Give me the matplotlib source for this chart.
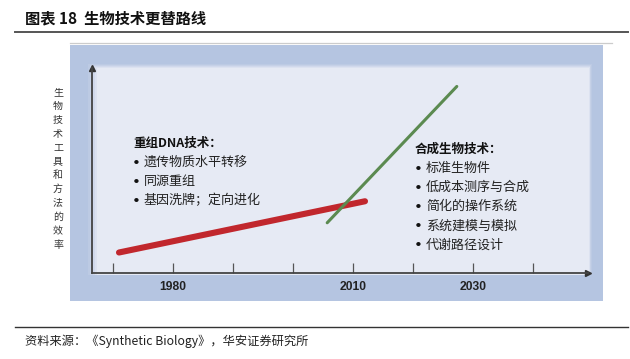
import matplotlib
matplotlib.use("Agg")
import matplotlib.pyplot as plt
from matplotlib.patches import Rectangle
from matplotlib.lines import Line2D

plt.rcParams['font.family'] = ['Noto Sans CJK SC', 'DejaVu Sans']

# ---------------- data ----------------
title = "图表 18  生物技术更替路线"
source = "资料来源：《Synthetic Biology》，华安证券研究所"
ylabel_chars = "生物技术工具和方法的效率"
tick_years = [1970, 1980, 1990, 2000, 2010, 2020, 2030, 2040]
tick_labels = ["", "1980", "", "", "2010", "", "2030", ""]
red_x = [1971, 2012]
red_y = [10, 35]
green_x = [2005.7, 2027.3]
green_y = [24.5, 91]
dna_title = "重组DNA技术："
dna_items = ["遗传物质水平转移", "同源重组", "基因洗牌；定向进化"]
syn_title = "合成生物技术："
syn_items = ["标准生物件", "低成本测序与合成", "简化的操作系统", "系统建模与模拟", "代谢路径设计"]

W, H = 630, 359
fig = plt.figure(figsize=(W / 100, H / 100), dpi=100)
fig.patch.set_facecolor("white")


def fx(x):
    return x / W


def fy(y):
    return 1 - y / H


def rect(x0, y0, x1, y1, color, z=0):
    fig.patches.append(Rectangle((fx(x0), fy(y1)), fx(x1) - fx(x0), fy(y0) - fy(y1),
                                 transform=fig.transFigure, facecolor=color,
                                 edgecolor="none", zorder=z))


def hline(y, x0, x1, color, lw):
    fig.add_artist(Line2D([fx(x0), fx(x1)], [fy(y), fy(y)], transform=fig.transFigure,
                          color=color, lw=lw))


# header / footer
fig.text(fx(25), fy(18), title, fontsize=11, fontweight="bold", ha="left", va="center", color="#111111")
hline(32, 15, 628, "#555555", 1.4)
hline(43, 70, 612, "#cccccc", 0.9)
hline(327, 15, 628, "#333333", 1.0)
fig.text(fx(25), fy(341), source, fontsize=8.8, ha="left", va="center", color="#222222")

# panel backgrounds (outer blue frame + soft-edged inner panel)
rect(70, 45, 603, 301, "#b5c5e1", z=0)
steps = ["#bccae3", "#c6d1e7", "#d1d9ec", "#dce2f0", "#e6eaf4"]
for i, c in enumerate(steps):
    s = (len(steps) - 1 - i) * 1.2
    rect(93 - s + i, 64 + i * 1.0, 592 - i * 0.8, 275, c, z=1 + i * 0.01)

# y label (stacked characters)
for i, ch in enumerate(ylabel_chars):
    fig.text(fx(58), fy(92 + i * 13.9), ch, fontsize=7.2, ha="center", va="center", color="#333333")

# main axes
ax = fig.add_axes([fx(92), fy(273), fx(588) - fx(92), fy(68) - fy(273)])
ax.set_zorder(3)
ax.patch.set_visible(False)
ax.set_xlim(1966.5, 1970 + (588 - 113) / 6)
ax.set_ylim(0, 100)
for s in ["top", "right"]:
    ax.spines[s].set_visible(False)
for s in ["left", "bottom"]:
    ax.spines[s].set_color("#444444")
    ax.spines[s].set_linewidth(1.3)
ax.set_xticks(tick_years)
ax.set_xticklabels(tick_labels, fontfamily="Liberation Sans", fontweight="bold", fontsize=8.7, color="#222222")
ax.tick_params(axis="x", direction="in", length=7, width=0.9, color="#555555", pad=6)
ax.set_yticks([])
ax.plot(1, 0, ">", color="#333333", markersize=5, transform=ax.transAxes, clip_on=False)
ax.plot(0, 1, "^", color="#333333", markersize=5, transform=ax.transAxes, clip_on=False)

ax.plot(red_x, red_y, color="#c1272d", lw=4.4, solid_capstyle="round")
ax.plot(green_x, green_y, color="#5b8a50", lw=2.2, solid_capstyle="round")


# text blocks
def block(x, y0, head, items):
    fig.text(fx(x), fy(y0), head, fontsize=9, fontweight="bold", ha="left", va="center", color="#111111", zorder=5)
    for i, it in enumerate(items):
        yy = y0 + 19.2 * (i + 1)
        fig.text(fx(x + 3), fy(yy), "●", fontsize=3.5, ha="center", va="center", color="#111111", zorder=5)
        fig.text(fx(x + 11), fy(yy), it, fontsize=9.4, ha="left", va="center", color="#222222", zorder=5)


block(133, 143, dna_title, dna_items)
block(415, 149, syn_title, syn_items)

fig.savefig("out.png", dpi=100)
